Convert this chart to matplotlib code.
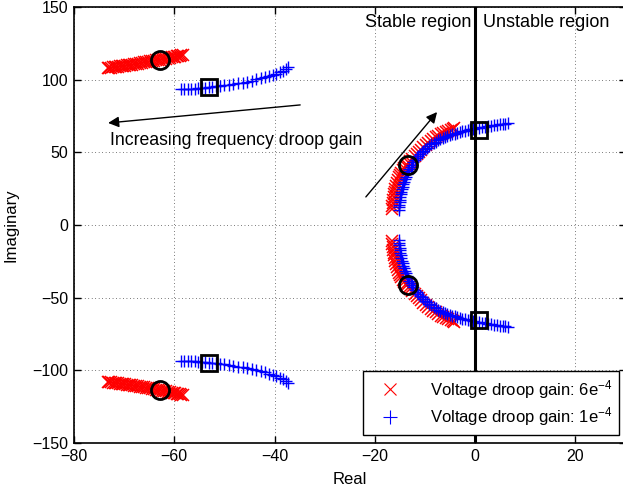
import numpy as np
import matplotlib
matplotlib.use('Agg')
import matplotlib.pyplot as plt

plt.rcParams['font.family'] = ['Liberation Sans', 'DejaVu Sans']
plt.rcParams['mathtext.fontset'] = 'custom'
plt.rcParams['mathtext.rm'] = 'Liberation Sans'
plt.rcParams['mathtext.it'] = 'Liberation Sans:italic'
plt.rcParams['mathtext.bf'] = 'Liberation Sans:bold'

# upper-half poles (the lower half is the complex conjugate)
# voltage droop gain 6e-4 (red)
red_far_re = [-73.3, -73.0, -72.6, -72.3, -71.9, -71.6, -71.2, -70.9, -70.5, -70.2, -69.8, -69.5,
              -69.1, -68.8, -68.4, -68.1, -67.7, -67.3, -66.9, -66.5, -66.1, -65.7, -65.3, -64.9,
              -64.5, -64.1, -63.7, -63.3, -62.9, -62.5, -62.1, -61.7, -61.3, -60.9, -60.5, -60.1,
              -59.8, -59.5, -59.2, -58.9, -58.6, -58.3]
red_far_im = [108.0, 108.1, 108.3, 108.4, 108.6, 108.7, 108.9, 109.1, 109.3, 109.4, 109.6, 109.8,
              110.0, 110.2, 110.4, 110.6, 110.8, 111.0, 111.3, 111.5, 111.8, 112.0, 112.3, 112.5,
              112.8, 113.0, 113.3, 113.5, 113.7, 114.0, 114.3, 114.5, 114.8, 115.1, 115.4, 115.7,
              115.9, 116.1, 116.4, 116.6, 116.8, 117.0]
red_near_re = [-16.6, -16.5, -16.4, -16.3, -16.2, -16.1, -16.0, -15.9, -15.7, -15.5, -15.3, -15.1,
               -14.9, -14.7, -14.4, -14.1, -13.8, -13.5, -13.2, -12.9, -12.5, -12.1, -11.7, -11.3,
               -10.9, -10.4, -9.9, -9.4, -8.9, -8.4, -7.9, -7.4, -6.9, -6.4, -5.9, -5.4, -4.9,
               -4.5, -4.2]
red_near_im = [11.0, 13.0, 15.0, 17.0, 19.0, 21.0, 23.0, 25.0, 27.0, 29.0, 31.0, 32.8,
               34.5, 36.0, 37.6, 39.0, 40.3, 41.5, 42.8, 44.0, 45.6, 47.2, 48.8, 50.3,
               51.7, 53.4, 55.0, 56.5, 57.8, 59.1, 60.2, 61.3, 62.3, 63.2, 64.0, 64.8, 65.6,
               66.2, 66.7]

# voltage droop gain 1e-4 (blue)
blue_far_re = [-58.7, -58.0, -57.3, -56.6, -55.9, -55.2, -54.5, -53.8, -53.1, -52.4, -51.6, -50.8,
               -50.0, -49.1, -48.2, -47.3, -46.4, -45.5, -44.6, -43.7, -42.8, -42.0, -41.2, -40.4,
               -39.7, -39.0, -38.4, -37.8, -37.3]
blue_far_im = [93.5, 93.6, 93.7, 93.8, 93.9, 94.0, 94.2, 94.4, 94.7, 95.0, 95.3, 95.6,
               96.0, 96.4, 96.9, 97.4, 98.0, 98.7, 99.4, 100.1, 100.8, 101.5, 102.3, 103.1,
               104.0, 105.0, 106.1, 107.3, 108.6]
blue_near_re = [-15.2, -15.15, -15.1, -15.05, -15.0, -14.9, -14.8, -14.7, -14.6, -14.45, -14.3,
                -14.15, -14.0, -13.8, -13.6, -13.35, -13.1, -12.85, -12.6, -12.3, -12.0, -11.7,
                -11.4, -11.05, -10.7, -10.35, -10.0, -9.6, -9.2, -8.75, -8.3, -7.85, -7.4, -6.95,
                -6.5, -6.05, -5.6, -5.1, -4.6, -4.1, -3.6, -3.1, -2.6, -2.05, -1.5, -0.95, -0.4,
                0.2, 0.8, 1.4, 2.0, 2.6, 3.2, 3.8, 4.4, 5.0, 5.5, 6.0, 6.5]
blue_near_im = [10.5, 12.3, 14.0, 15.8, 17.5, 19.3, 21.0, 22.8, 24.5, 26.3, 28.0,
                29.8, 31.5, 33.3, 35.0, 36.8, 38.5, 40.0, 41.5, 43.0, 44.5, 45.9,
                47.3, 48.6, 49.9, 51.1, 52.2, 53.3, 54.4, 55.4, 56.4, 57.3, 58.2, 59.0,
                59.8, 60.5, 61.1, 61.7, 62.3, 62.9, 63.4, 63.9, 64.4, 64.9, 65.3, 65.7, 66.1,
                66.5, 66.8, 67.2, 67.5, 67.9, 68.2, 68.6, 68.9, 69.2, 69.5, 69.8, 70.1]

# highlighted operating points
circle_re = [-62.8, -13.3]
circle_im = [113.5, 41.0]
square_re = [-53.0, 0.8]
square_im = [95.0, 65.5]

fig = plt.figure(figsize=(6.23, 4.91), dpi=100)
ax = fig.add_axes([0.1188, 0.0978, 0.8854, 0.888])

for re, im in [(red_far_re, red_far_im), (red_near_re, red_near_im)]:
    re = np.array(re)
    im = np.array(im)
    ax.plot(np.r_[re, re], np.r_[im, -im], 'x', color='red', ms=9, mew=1.1)
for re, im in [(blue_far_re, blue_far_im), (blue_near_re, blue_near_im)]:
    re = np.array(re)
    im = np.array(im)
    ax.plot(np.r_[re, re], np.r_[im, -im], '+', color='blue', ms=9, mew=1.0)

ax.plot(circle_re + circle_re, circle_im + [-v for v in circle_im], 'o', ms=13, mfc='none',
        mec='black', mew=2)
ax.plot(square_re + square_re, square_im + [-v for v in square_im], 's', ms=12, mfc='none',
        mec='black', mew=2)

# legend proxies
ax.plot([], [], 'x', color='red', ms=9, mew=0.8, label=r'Voltage droop gain: 6e$^{-4}$')
ax.plot([], [], '+', color='blue', ms=10, mew=0.8, label=r'Voltage droop gain: 1e$^{-4}$')

ax.axvline(0, color='black', lw=2.2)

ax.annotate('', xy=(-73.2, 70.2), xytext=(-34.9, 82.6),
            arrowprops=dict(arrowstyle='-|>', lw=1, color='black', mutation_scale=16,
                            shrinkA=0, shrinkB=0))
ax.annotate('', xy=(-7.6, 77.7), xytext=(-21.8, 19.3),
            arrowprops=dict(arrowstyle='-|>', lw=1, color='black', mutation_scale=16,
                            shrinkA=0, shrinkB=0))
ax.text(-72.8, 57.8, 'Increasing frequency droop gain', fontsize=12.7, va='center', ha='left')
ax.text(-0.7, 139.5, 'Stable region', fontsize=13, va='center', ha='right')
ax.text(1.6, 139.5, 'Unstable region', fontsize=13, va='center', ha='left')

ax.set_xlim(-80, 30)
ax.set_ylim(-150, 150)
ax.set_xticks([-80, -60, -40, -20, 0, 20])
ax.set_yticks([-150, -100, -50, 0, 50, 100, 150])
ax.tick_params(direction='in', top=True, right=True, labelsize=11.5, length=5, width=1, pad=4)
ax.grid(True, color='black', linestyle=(0, (1, 4)), lw=0.5)
for s in ax.spines.values():
    s.set_linewidth(1.2)

ax.set_xlabel('Real', fontsize=12, labelpad=6)
ax.set_ylabel('Imaginary', fontsize=12, labelpad=10)

leg = ax.legend(loc='lower right', bbox_to_anchor=(0.988, 0.018), borderaxespad=0,
                fontsize=12, fancybox=False, framealpha=1, edgecolor='black',
                handlelength=2.4, handletextpad=1.2, borderpad=0.4, labelspacing=0.3)
leg.get_frame().set_linewidth(1.0)

fig.savefig('out.png', dpi=100)
